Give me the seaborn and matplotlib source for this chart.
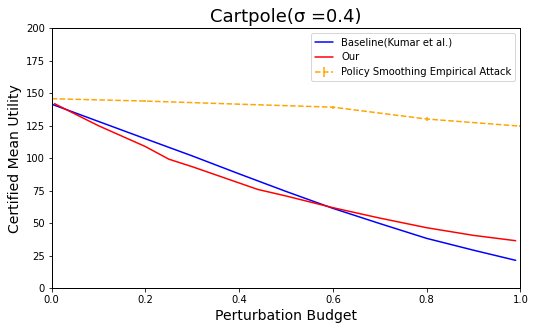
import matplotlib
matplotlib.use("Agg")
import matplotlib.pyplot as plt
import seaborn as sns
import pandas as pd

# values
budget_base = [0.0, 0.1, 0.2, 0.3, 0.4, 0.5, 0.6, 0.7, 0.8, 0.9, 0.99]
baseline = [141.6, 128.3, 115.0, 101.8, 88.0, 74.5, 61.5, 49.8, 38.4, 29.3, 21.5]

budget_our = [0.006, 0.05, 0.1, 0.15, 0.2, 0.25, 0.3, 0.4, 0.44, 0.5, 0.6, 0.7, 0.8, 0.9, 0.99]
our = [142.0, 134.0, 125.0, 117.0, 109.0, 99.3, 93.5, 81.0, 76.0, 71.0, 62.0, 54.0, 46.6, 40.7, 36.6]

budget_attack = [0.0, 0.2, 0.4, 0.6, 0.8, 1.0]
attack = [145.8, 144.0, 141.6, 139.3, 130.2, 124.7]
attack_err = [0.5, 1.0, 0.5, 1.2, 1.3, 0.8]

sns.set_style("ticks")
plt.rcParams['font.family'] = ['DejaVu Sans']
plt.rcParams['text.color'] = 'black'
plt.rcParams['axes.labelcolor'] = 'black'
plt.rcParams['xtick.color'] = 'black'
plt.rcParams['ytick.color'] = 'black'

fig = plt.figure(figsize=(535 / 72, 330 / 72), dpi=72)
ax = fig.add_axes([0.0966, 0.1264, 0.876, 0.788])

df_base = pd.DataFrame({'x': budget_base, 'y': baseline})
df_our = pd.DataFrame({'x': budget_our, 'y': our})

sns.lineplot(data=df_base, x='x', y='y', color='blue', label='Baseline(Kumar et al.)', ax=ax)
sns.lineplot(data=df_our, x='x', y='y', color='red', label='Our', ax=ax)
ax.errorbar(budget_attack, attack, yerr=attack_err, color='orange', linestyle='--',
            label='Policy Smoothing Empirical Attack')

ax.set_xlim(0, 1.0)
ax.set_ylim(0, 200)
ax.set_xticks([0.0, 0.2, 0.4, 0.6, 0.8, 1.0])
ax.set_yticks([0, 25, 50, 75, 100, 125, 150, 175, 200])
ax.tick_params(labelsize=10, length=3.5)
for s in ax.spines.values():
    s.set_color('black')
    s.set_linewidth(1.0)

ax.set_xlabel("Perturbation Budget", fontsize=14)
ax.set_ylabel("Certified Mean Utility", fontsize=14)
ax.set_title("Cartpole(σ =0.4)", fontsize=18)
ax.legend(loc='upper right', fontsize=10, handlelength=1.8)

fig.savefig("out.png", dpi=72)
